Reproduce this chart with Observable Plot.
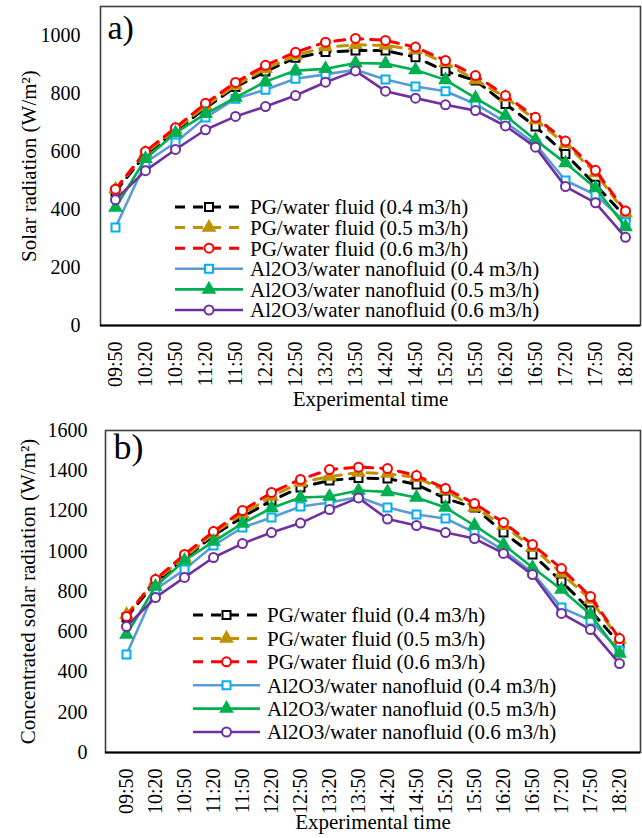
<!DOCTYPE html>
<html><head><meta charset="utf-8">
<script src="https://cdn.jsdelivr.net/npm/d3@7"></script>
<script src="https://cdn.jsdelivr.net/npm/@observablehq/plot@0.6"></script>
<style>
body{margin:0;background:#fff;}
#chart{width:642px;}
#chart svg{display:block;}
</style></head><body><div id="chart"></div>
<script>
const times = ["09:50","10:20","10:50","11:20","11:50","12:20","12:50","13:20","13:50","14:20","14:50","15:20","15:50","16:20","16:50","17:20","17:50","18:20"];
const seriesNames = ["PG/water fluid (0.4 m3/h)","PG/water fluid (0.5 m3/h)","PG/water fluid (0.6 m3/h)","Al2O3/water nanofluid (0.4 m3/h)","Al2O3/water nanofluid (0.5 m3/h)","Al2O3/water nanofluid (0.6 m3/h)"];

// Panel a: solar radiation (W/m2)
const solarPG04 = [462, 590, 670, 750, 822, 876, 923, 943, 948, 948, 925, 877, 845, 764, 686, 591, 485, 375];
const solarPG05 = [470, 595, 675, 757, 828, 885, 931, 960, 968, 966, 951, 905, 847, 787, 709, 626, 526, 388];
const solarPG06 = [470, 600, 682, 766, 838, 897, 942, 977, 990, 983, 960, 914, 862, 793, 718, 636, 535, 395];
const solarAl04 = [338, 562, 631, 717, 782, 813, 851, 866, 882, 848, 824, 808, 764, 701, 626, 500, 451, 356];
const solarAl05 = [407, 575, 664, 730, 786, 841, 879, 885, 905, 903, 881, 847, 784, 724, 640, 560, 474, 340];
const solarAl06 = [434, 534, 607, 675, 721, 755, 793, 839, 878, 808, 784, 761, 741, 688, 615, 479, 423, 304];

// Panel b: concentrated solar radiation (W/m2)
const concPG04 = [671, 845, 964, 1078, 1170, 1252, 1317, 1352, 1364, 1361, 1332, 1262, 1217, 1093, 984, 850, 706, 542];
const concPG05 = [685, 855, 969, 1088, 1185, 1272, 1342, 1371, 1391, 1386, 1366, 1302, 1217, 1128, 1019, 890, 760, 561];
const concPG06 = [676, 860, 984, 1098, 1202, 1292, 1357, 1406, 1418, 1411, 1376, 1312, 1237, 1143, 1033, 914, 775, 566];
const concAl04 = [487, 810, 909, 1029, 1118, 1168, 1222, 1242, 1270, 1217, 1183, 1163, 1093, 1004, 894, 720, 656, 507];
const concAl05 = [586, 825, 954, 1048, 1138, 1215, 1267, 1272, 1302, 1295, 1267, 1217, 1128, 1033, 919, 810, 686, 492];
const concAl06 = [626, 770, 870, 969, 1038, 1093, 1140, 1207, 1265, 1160, 1128, 1093, 1063, 989, 884, 691, 611, 442];

const yTicksA = [0, 200, 400, 600, 800, 1000];
const yTicksB = [0, 200, 400, 600, 800, 1000, 1200, 1400, 1600];

const lineColors = ["#000000", "#BF9000", "#FF0000", "#5B9BD5", "#00B050", "#7030A0"];
const markColors = ["#000000", "#BF9000", "#FF0000", "#00B0F0", "#00B050", "#7030A0"];
const symbols = ["square", "triangle", "circle", "square", "triangle", "circle"];
const markFill = ["white", "#BF9000", "white", "white", "#00B050", "white"];
const dashes = ["10,8", "10,8", "10,8", null, null, null];
const lineWidths = [3, 3, 3, 2.6, 2.6, 2.6];
const symbolR = {square: 4.5, triangle: 4.2, circle: 4.5};
const d3Sym = {square: d3.symbolSquare, triangle: d3.symbolTriangle, circle: d3.symbolCircle};

const FONT = "'Liberation Serif', 'Times New Roman', serif";

function makePanel(cfg) {
  const rows = [];
  cfg.series.forEach((arr, i) => arr.forEach((v, j) => rows.push({series: seriesNames[i], idx: i, time: times[j], value: v})));
  const marks = [
    Plot.frame({stroke: "#404040", strokeWidth: 1.6}),
    Plot.ruleY([0], {stroke: "#000", strokeWidth: 2})
  ];
  for (let i = 0; i < 6; i++) {
    const data = rows.filter(d => d.idx === i);
    marks.push(Plot.line(data, {x: "time", y: "value", stroke: lineColors[i], strokeWidth: lineWidths[i], strokeDasharray: dashes[i] || undefined}));
    marks.push(Plot.dot(data, {x: "time", y: "value", symbol: symbols[i], r: symbolR[symbols[i]], fill: markFill[i], stroke: markColors[i], strokeWidth: 2}));
  }
  marks.push(Plot.text([cfg.yLabel], {frameAnchor: "left", textAnchor: "middle", dx: cfg.yLabelDx, rotate: -90, fontSize: 21, fill: "#000"}));
  marks.push(Plot.text(["Experimental time"], {frameAnchor: "bottom", textAnchor: "middle", dy: cfg.xLabelDy, fontSize: 21, fill: "#000"}));
  marks.push(Plot.text([cfg.tag], {frameAnchor: "top-left", dx: cfg.tagDx, dy: cfg.tagDy, textAnchor: "start", lineAnchor: "top", fontSize: cfg.tagSize, fill: "#000"}));

  const svg = Plot.plot({
    width: 642,
    height: cfg.height,
    marginTop: cfg.marginTop,
    marginBottom: cfg.marginBottom,
    marginLeft: cfg.marginLeft,
    marginRight: 2,
    style: {fontFamily: FONT, fontSize: "20px", color: "#000", background: "#fff", overflow: "visible"},
    x: {type: "point", domain: times, padding: 0.5, label: null, tickSize: 0, tickRotate: -90, tickPadding: cfg.xTickPad},
    y: {domain: cfg.yDomain, ticks: cfg.yTicks, tickSize: 0, tickPadding: cfg.yTickPad, label: null, tickFormat: d => String(d)},
    marks
  });

  // Legend
  const g = d3.select(svg).append("g").attr("font-family", FONT).attr("font-size", 21).attr("text-anchor", "start");
  seriesNames.forEach((name, i) => {
    const y = cfg.legY0 + cfg.legStep * i;
    g.append("line").attr("x1", cfg.legX0).attr("x2", cfg.legX1).attr("y1", y).attr("y2", y)
      .attr("stroke", lineColors[i]).attr("stroke-width", lineWidths[i])
      .attr("stroke-dasharray", dashes[i]);
    g.append("path").attr("transform", `translate(${(cfg.legX0 + cfg.legX1) / 2},${y})`)
      .attr("d", d3.symbol(d3Sym[symbols[i]], Math.PI * symbolR[symbols[i]] ** 2)())
      .attr("fill", markFill[i]).attr("stroke", markColors[i]).attr("stroke-width", 2);
    g.append("text").attr("x", cfg.legText).attr("y", y).attr("dy", "0.35em").attr("text-anchor", "start").attr("fill", "#000").text(name);
  });
  return svg;
}

const chart = document.getElementById("chart");
chart.appendChild(makePanel({
  series: [solarPG04, solarPG05, solarPG06, solarAl04, solarAl05, solarAl06],
  height: 418, marginTop: 6, marginBottom: 93, marginLeft: 100,
  yDomain: [0, 1100], yTicks: yTicksA, yTickPad: 20, xTickPad: 16,
  yLabel: "Solar radiation (W/m²)", yLabelDx: -71, xLabelDy: 80,
  tag: "a)", tagDx: 7, tagDy: 8, tagSize: 34,
  legY0: 207, legStep: 20.6, legX0: 175, legX1: 243, legText: 250
}));
chart.appendChild(makePanel({
  series: [concPG04, concPG05, concPG06, concAl04, concAl05, concAl06],
  height: 420, marginTop: 12, marginBottom: 86, marginLeft: 105,
  yDomain: [0, 1600], yTicks: yTicksB, yTickPad: 18, xTickPad: 16,
  yLabel: "Concentrated solar radiation (W/m²)", yLabelDx: -77, xLabelDy: 76,
  tag: "b)", tagDx: 8, tagDy: 3, tagSize: 36,
  legY0: 197, legStep: 23.4, legX0: 193, legX1: 260, legText: 267
}));
</script>
</body></html>
